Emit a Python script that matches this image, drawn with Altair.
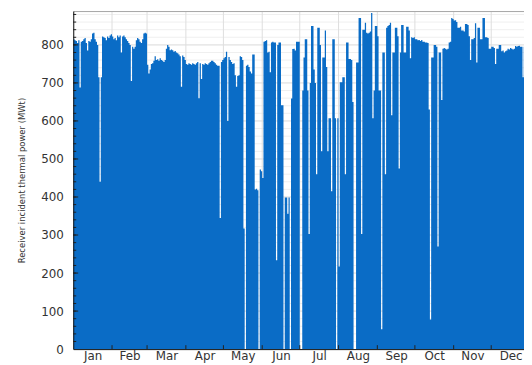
import altair as alt
import pandas as pd

months = ["Jan", "Feb", "Mar", "Apr", "May", "Jun", "Jul", "Aug", "Sep", "Oct", "Nov", "Dec"]
month_start = [0, 31, 59, 90, 120, 151, 181, 212, 243, 273, 304, 334]
month_mid = [15.5, 45, 74.5, 105, 135.5, 166, 196.5, 227.5, 258, 288.5, 319, 349.5]

jan = [815, 812, 810, 805, 812, 688, 808, 810, 815, 818, 805, 785, 810, 808, 815, 830,
       832, 815, 808, 800, 715, 440, 715, 822, 820, 818, 812, 822, 818, 825, 828]
feb = [822, 815, 818, 812, 825, 820, 825, 780, 822, 825, 820, 815, 810, 805, 800, 705,
       795, 790, 795, 812, 818, 815, 808, 805, 815, 830, 832, 830]
mar = [748, 725, 735, 750, 752, 758, 770, 760, 762, 758, 765, 760, 758, 755, 760, 790,
       800, 795, 786, 788, 786, 782, 784, 780, 778, 775, 770, 690, 772, 768, 760]
apr = [750, 748, 752, 750, 748, 752, 750, 748, 752, 755, 660, 752, 710, 750, 748, 752,
       750, 748, 752, 755, 758, 758, 755, 752, 748, 745, 745, 345, 755, 760]
may = [765, 768, 782, 600, 768, 760, 755, 750, 752, 720, 690, 718, 720, 770, 768, 760,
       317, 0, 745, 748, 742, 730, 725, 775, 775, 420, 422, 418, 0, 472, 468]
jun = [450, 808, 810, 812, 780, 782, 728, 806, 808, 806, 806, 234, 800, 806, 806, 641,
       641, 0, 399, 399, 356, 399, 0, 659, 789, 790, 785, 808, 808, 808]
jul = [0, 0, 680, 767, 815, 815, 680, 303, 700, 850, 850, 735, 700, 460, 845, 845,
       800, 520, 767, 767, 838, 742, 520, 607, 607, 415, 815, 815, 607, 0, 607]
aug = [217, 702, 702, 715, 715, 460, 806, 806, 763, 763, 760, 650, 0, 0, 754, 754,
       871, 871, 303, 840, 840, 858, 832, 830, 832, 835, 884, 607, 680, 850, 850]
sep = [823, 680, 680, 52, 780, 780, 460, 845, 850, 852, 858, 615, 780, 780, 845, 845,
       823, 475, 780, 852, 852, 780, 780, 848, 848, 838, 765, 820, 818, 820]
oct_ = [815, 815, 812, 813, 810, 813, 808, 808, 806, 806, 805, 630, 78, 767, 767, 800,
        800, 795, 270, 780, 780, 655, 790, 792, 790, 788, 790, 806, 808, 871, 868]
nov = [864, 865, 860, 845, 845, 848, 838, 838, 835, 855, 855, 852, 823, 760, 815, 815,
       818, 857, 754, 845, 845, 815, 815, 871, 871, 820, 820, 818, 790, 790]
dec = [795, 795, 792, 750, 790, 790, 800, 800, 783, 785, 780, 783, 785, 790, 788, 792,
       790, 788, 790, 797, 795, 797, 798, 795, 795, 715, 795, 790, 790, 790, 790]

y_grid = list(range(20, 881, 20))
y_major = [100, 200, 300, 400, 500, 600, 700, 800]

power = jan + feb + mar + apr + may + jun + jul + aug + sep + oct_ + nov + dec
days = list(range(len(power)))
df = pd.DataFrame({"day": days + [len(power)], "power": power + [power[-1]]})

BLUE = "#0a6cc6"
X_MAX = 360.2
Y_MAX = 889
W, H = 456, 342

xscale = alt.Scale(domain=[0, X_MAX], nice=False, zero=False)
yscale = alt.Scale(domain=[0, Y_MAX], nice=False, zero=False)

label_expr = ("[" + ",".join(f"'{m}'" for m in months) + "][indexof(["
              + ",".join(str(v) for v in month_mid) + "], datum.value)]")

grid_df = pd.DataFrame({"v": y_grid})
major_df = pd.DataFrame({"v": y_major})
ms_df = pd.DataFrame({"start": month_start[1:]})

hgrid = alt.Chart(grid_df).mark_rule(color="#efefef", strokeWidth=1).encode(
    y=alt.Y("v:Q", scale=yscale, axis=None)
)
hgrid_major = alt.Chart(major_df).mark_rule(color="#e2e2e2", strokeWidth=1).encode(
    y=alt.Y("v:Q", scale=yscale, axis=None)
)
vgrid = alt.Chart(ms_df).mark_rule(color="#dedede", strokeWidth=1).encode(
    x=alt.X("start:Q", scale=xscale,
            axis=alt.Axis(orient="top", labels=False, ticks=False, grid=False,
                          domain=True, domainColor="#a8a8a8", title=None, zindex=1))
)

area = alt.Chart(df).mark_area(interpolate="step-after", color=BLUE, clip=True).encode(
    x=alt.X("day:Q", scale=xscale,
            axis=alt.Axis(orient="bottom", values=month_mid, labelExpr=label_expr,
                          ticks=False, tickSize=0,
                          grid=False, domain=True, domainColor="#111", labelPadding=2,
                          labelFont="DejaVu Sans", labelFontSize=12, labelColor="#333",
                          labelFlush=False, labelOverlap=False, title=None, zindex=1)),
    y=alt.Y("power:Q", scale=yscale,
            axis=alt.Axis(orient="left", values=[0] + y_major, ticks=False, tickSize=0,
                          grid=False, domain=True, domainColor="#111", labelPadding=10,
                          labelFont="DejaVu Sans", labelFontSize=12, labelColor="#333",
                          labelOverlap=False, labelFlush=False,
                          title="Receiver incident thermal power (MWt)",
                          titleFont="Liberation Sans Narrow, DejaVu Sans Condensed, sans-serif",
                          titleFontSize=9.5, titleFontWeight="normal", titleColor="#333",
                          titlePadding=14, zindex=1)),
)

xticks = alt.Chart(ms_df).mark_rule(color="#222", strokeWidth=1).encode(
    x=alt.X("start:Q", scale=xscale, axis=None),
    y=alt.value(H), y2=alt.value(H - 4),
)
yticks_minor = alt.Chart(grid_df).mark_rule(color="#222", strokeWidth=1).encode(
    y=alt.Y("v:Q", scale=yscale, axis=None),
    x=alt.value(0), x2=alt.value(3),
)
yticks_major = alt.Chart(major_df).mark_rule(color="#222", strokeWidth=1).encode(
    y=alt.Y("v:Q", scale=yscale, axis=None),
    x=alt.value(0), x2=alt.value(5),
)

chart = alt.layer(hgrid, hgrid_major, vgrid, area, xticks, yticks_minor, yticks_major).resolve_axis(
    x="independent", y="independent"
).properties(
    width=W, height=H,
    autosize=alt.AutoSizeParams(type="none"),
    padding={"left": 66, "top": 1, "right": 0, "bottom": 15},
).configure_view(stroke=None).configure(background="white")

chart.save("out.html", embed_options={"renderer": "svg", "actions": False})
